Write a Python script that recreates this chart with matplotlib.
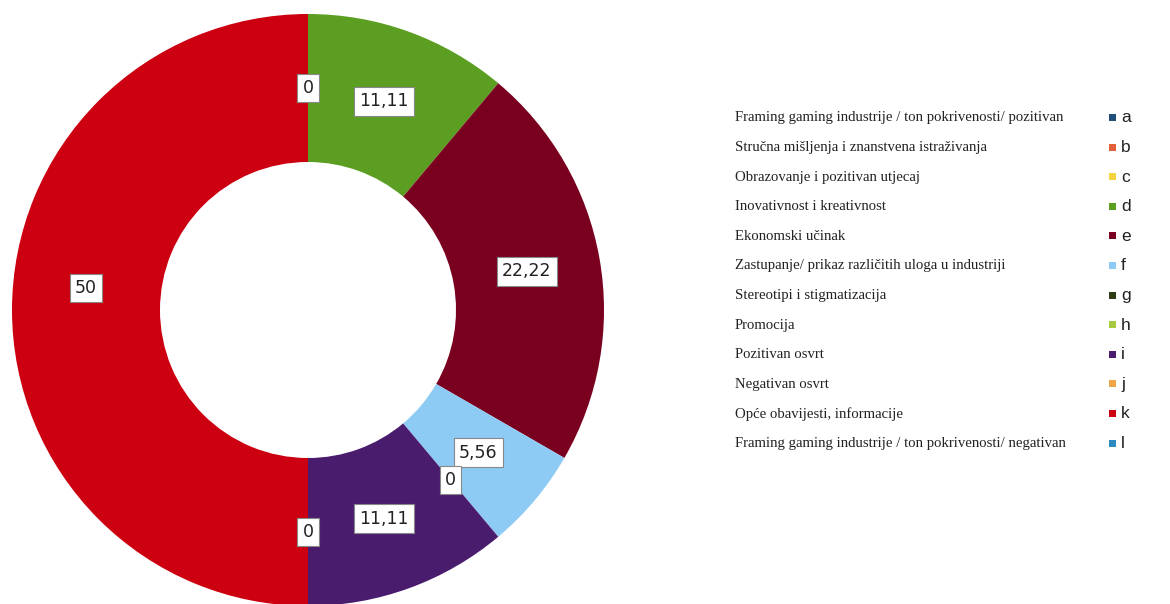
import matplotlib
matplotlib.use("Agg")
import matplotlib.pyplot as plt
from matplotlib.patches import Rectangle
import numpy as np

categories = [
    "Framing gaming industrije / ton pokrivenosti/ pozitivan",
    "Stručna mišljenja i znanstvena istraživanja",
    "Obrazovanje i pozitivan utjecaj",
    "Inovativnost i kreativnost",
    "Ekonomski učinak",
    "Zastupanje/ prikaz različitih uloga u industriji",
    "Stereotipi i stigmatizacija",
    "Promocija",
    "Pozitivan osvrt",
    "Negativan osvrt",
    "Opće obavijesti, informacije",
    "Framing gaming industrije / ton pokrivenosti/ negativan",
]
letters = ["a", "b", "c", "d", "e", "f", "g", "h", "i", "j", "k", "l"]
values = [0, 0, 0, 11.11, 22.22, 5.56, 0, 0, 11.11, 0, 50, 0]
show_label = [True, False, False, True, True, True, True, False, True, True, True, False]
# pixel nudges for label boxes (style only)
label_nudge = [(0, 0)] * 10 + [(0, 22), (0, 0)]

colors = ["#1F4E79", "#E2603B", "#F5D33F", "#5B9E22", "#7A0020", "#8DCBF5",
          "#2F3D14", "#A6C93D", "#4A1C6E", "#EFA54A", "#CC0010", "#2D8AC0"]

W, H = 1170, 604
fig = plt.figure(figsize=(W / 100, H / 100), dpi=100)
fig.patch.set_facecolor("white")

# donut axes: center (308,310), radius 296
cx, cy, R = 308, 310, 296
ax = fig.add_axes([(cx - R) / W, (H - cy - R) / H, 2 * R / W, 2 * R / H])
wedges, _ = ax.pie(values, colors=colors, startangle=90, counterclock=False,
                   radius=1.0, wedgeprops=dict(width=0.5, edgecolor="none"))
ax.set_xlim(-1, 1)
ax.set_ylim(-1, 1)
ax.set_aspect("equal")
ax.axis("off")

total = sum(values)
cum = 0.0
for v, show, nd in zip(values, show_label, label_nudge):
    mid = cum + v / 2
    cum += v
    if not show:
        continue
    ang = np.deg2rad(90 - mid / total * 360)
    r = 0.75
    txt = f"{v:g}".replace(".", ",")
    ax.text(r * np.cos(ang) + nd[0] / R, r * np.sin(ang) + nd[1] / R, txt,
            ha="center", va="center",
            fontsize=12.5, family="DejaVu Sans", color="#222222",
            bbox=dict(boxstyle="square,pad=0.3", facecolor="white",
                      edgecolor="#888888", linewidth=0.8))

# legend
y0, dy = 118, 29.6
for i, (cat, let, col) in enumerate(zip(categories, letters, colors)):
    y = y0 + i * dy
    fig.text(735 / W, 1 - y / H, cat, ha="left", va="center",
             fontsize=10.6, family="Liberation Serif", color="#222222")
    fig.patches.append(Rectangle(((1109) / W, 1 - (y + 3) / H), 7 / W, 7 / H,
                                 transform=fig.transFigure, facecolor=col,
                                 edgecolor="none"))
    fig.text(1121 / W, 1 - y / H, let, ha="left", va="center",
             fontsize=12.5, family="Liberation Sans", color="#222222")

fig.savefig("out.png", dpi=100, facecolor="white")
